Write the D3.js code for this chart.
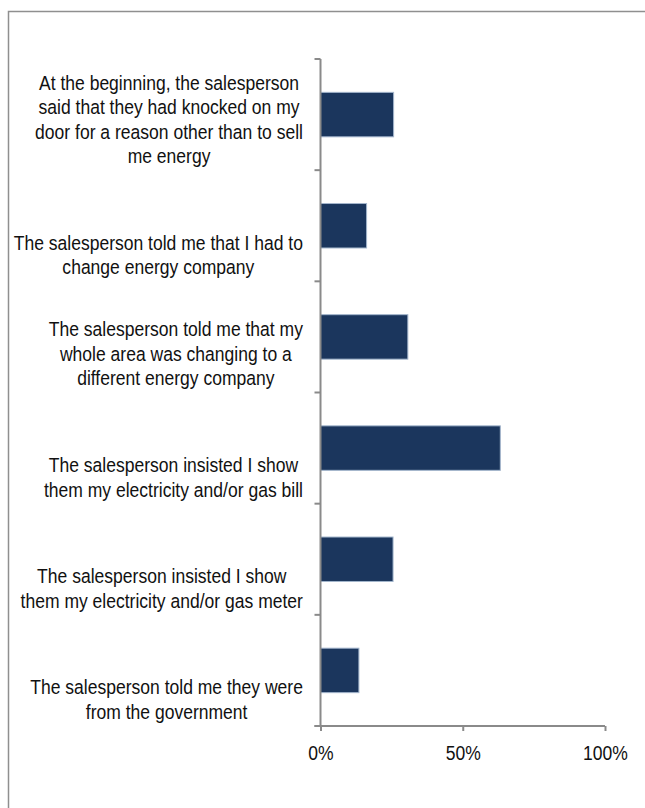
<!DOCTYPE html>
<html>
<head>
<meta charset="utf-8">
<script src="https://cdn.jsdelivr.net/npm/d3@7"></script>
<style>
  body { margin: 0; background: #fff; }
  svg { display: block; font-family: "Liberation Sans", Arial, sans-serif; }
</style>
</head>
<body>
<div id="chart-area"></div>
<script>
/* data */
const categories = [
	["At the beginning, the salesperson", "said that they had knocked on my", "door for a reason other than to sell", "me energy"],
	["The salesperson told me that I had to", "change energy company"],
	["The salesperson told me that my", "whole area was changing to a", "different energy company"],
	["The salesperson insisted I show", "them my electricity and/or gas bill"],
	["The salesperson insisted I show", "them my electricity and/or gas meter"],
	["The salesperson told me they were", "from the government"]
]
const values = [0.257, 0.162, 0.307, 0.632, 0.255, 0.135]
const xTicks = [0, 0.5, 1]

/* canvas */
const CANVAS_WIDTH = 645
const CANVAS_HEIGHT = 808
const margin = { top: 59, bottom: 82, left: 320.5, right: 40 }

const $svg = d3.select('#chart-area')
	.append('svg')
	.attr('width', CANVAS_WIDTH)
	.attr('height', CANVAS_HEIGHT)

// outer frame (runs off the right and bottom edges)
$svg.append('rect')
	.attr('x', 8.5)
	.attr('y', 11.5)
	.attr('width', 700)
	.attr('height', 900)
	.attr('fill', 'none')
	.attr('stroke', '#8f8f8f')
	.attr('stroke-width', 1.5)

const width = 605 - margin.left
const height = 726 - margin.top

const $scene = $svg.append('g')
	.attr('transform', `translate(${margin.left}, ${margin.top})`)

/* scales */
const xScale = d3.scaleLinear()
	.domain([0, 1])
	.range([0, width])

const yScale = d3.scaleBand()
	.domain(d3.range(categories.length))
	.range([0, height])
	.padding(0)

const axisColor = '#8a8a8a'
// text in the picture is tall and narrow
const fontSize = 20.5
const squeeze = 0.855

/* bars */
const barPad = 0.3
$scene.selectAll('rect.bar')
	.data(values)
	.enter()
	.append('rect')
	.attr('class', 'bar')
	.attr('x', 0)
	.attr('y', (d, i) => yScale(i) + yScale.bandwidth() * barPad)
	.attr('width', d => xScale(d))
	.attr('height', yScale.bandwidth() * (1 - 2 * barPad))
	.attr('fill', '#1b365d')
	.attr('stroke', '#a3b5cc')
	.attr('stroke-width', 1)

/* y axis: line + ticks at category boundaries */
$scene.append('line')
	.attr('x1', 0).attr('x2', 0)
	.attr('y1', 0).attr('y2', height)
	.attr('stroke', axisColor)
	.attr('stroke-width', 2)

const boundaries = d3.range(categories.length + 1).map(i => i * yScale.step())
$scene.selectAll('line.ytick')
	.data(boundaries)
	.enter()
	.append('line')
	.attr('class', 'ytick')
	.attr('x1', -6).attr('x2', 0)
	.attr('y1', d => d).attr('y2', d => d)
	.attr('stroke', axisColor)
	.attr('stroke-width', 2)

/* x axis */
const xAxisCall = d3.axisBottom(xScale)
	.tickValues(xTicks)
	.tickFormat(d3.format('.0%'))
	.tickSize(5)
	.tickSizeOuter(0)

const $xAxisGroup = $scene.append('g')
	.attr('transform', `translate(0, ${height})`)
	.call(xAxisCall)

$xAxisGroup.select('.domain').remove()
$xAxisGroup.append('line')
	.attr('x1', -6).attr('x2', width)
	.attr('y1', 0).attr('y2', 0)
	.attr('stroke', axisColor)
	.attr('stroke-width', 2)
$xAxisGroup.selectAll('.tick line')
	.attr('stroke', axisColor)
	.attr('stroke-width', 2)
$xAxisGroup.selectAll('.tick text')
	.attr('y', 34)
	.attr('dy', 0)
	.attr('transform', `scale(${squeeze}, 1)`)
	.attr('fill', '#111')
	.attr('font-size', fontSize)
	.attr('font-family', '"Liberation Sans", Arial, sans-serif')

/* category labels: centred block, right edge near the axis, bottom aligned */
const lineHeight = 24.5
const blockRight = 303
categories.forEach((lines, i) => {
	const $g = $svg.append('g')
	const $t = $g.append('text')
		.attr('text-anchor', 'middle')
		.attr('font-size', fontSize)
		.attr('fill', '#111')
	const bottom = margin.top + yScale(i) + yScale.bandwidth() - 7
	lines.forEach((line, j) => {
		$t.append('tspan')
			.attr('x', 0)
			.attr('y', bottom - (lines.length - 1 - j) * lineHeight)
			.text(line)
	})
	let maxW = 0
	$t.selectAll('tspan').each(function() {
		maxW = Math.max(maxW, this.getComputedTextLength() * squeeze)
	})
	$g.attr('transform', `translate(${blockRight - maxW / 2}, 0) scale(${squeeze}, 1)`)
})
</script>
</body>
</html>
